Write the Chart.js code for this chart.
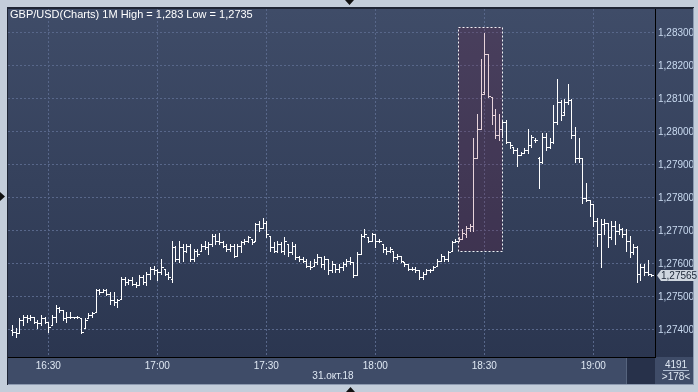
<!DOCTYPE html>
<html lang="ru">
<head>
<meta charset="UTF-8">
<title>GBP/USD 1M</title>
<style>
  html, body { margin: 0; padding: 0; background: #c3cdda; overflow: hidden; }
  canvas { display: block; }
</style>
</head>
<body>
<canvas id="ohlcChart" width="698" height="392"></canvas>
<script src="https://cdn.jsdelivr.net/npm/chart.js@4"></script>
<script>
// one bar per minute, minute 0 = 16:30
const firstBarMinute = -10;

const highs = [
  1.27415, 1.27405, 1.27435, 1.27445, 1.27445, 1.27445, 1.27440, 1.27430, 1.27445, 1.27440,
  1.27425, 1.27445, 1.27475, 1.27470, 1.27460, 1.27455, 1.27455, 1.27440, 1.27443, 1.27435,
  1.27435, 1.27450, 1.27455, 1.27525, 1.27525, 1.27525, 1.27525, 1.27515, 1.27515, 1.27495,
  1.27560, 1.27560, 1.27555, 1.27560, 1.27545, 1.27565, 1.27565, 1.27575, 1.27590, 1.27595,
  1.27585, 1.27615, 1.27585, 1.27575, 1.27670, 1.27655, 1.27670, 1.27660, 1.27660, 1.27660,
  1.27645, 1.27645, 1.27660, 1.27670, 1.27665, 1.27690, 1.27690, 1.27695, 1.27670, 1.27660,
  1.27660, 1.27660, 1.27660, 1.27670, 1.27675, 1.27685, 1.27675, 1.27725, 1.27730, 1.27740,
  1.27730, 1.27685, 1.27665, 1.27670, 1.27665, 1.27680, 1.27660, 1.27665, 1.27660, 1.27625,
  1.27620, 1.27615, 1.27610, 1.27615, 1.27630, 1.27620, 1.27625, 1.27615, 1.27610, 1.27600,
  1.27600, 1.27605, 1.27615, 1.27620, 1.27605, 1.27635, 1.27690, 1.27705, 1.27680, 1.27695,
  1.27690, 1.27675, 1.27660, 1.27650, 1.27650, 1.27640, 1.27630, 1.27625, 1.27605, 1.27600,
  1.27590, 1.27590, 1.27580, 1.27575, 1.27585, 1.27585, 1.27595, 1.27615, 1.27630, 1.27625,
  1.27640, 1.27670, 1.27675, 1.27680, 1.27705, 1.27715, 1.27720, 1.27980, 1.28055, 1.28220,
  1.28300, 1.28235, 1.28105, 1.28070, 1.28055, 1.28035, 1.28035, 1.27970, 1.27955, 1.27950,
  1.27940, 1.27950, 1.28010, 1.27990, 1.27980, 1.27925, 1.27995, 1.27995, 1.27980, 1.28080,
  1.28160, 1.28095, 1.28100, 1.28145, 1.28100, 1.28015, 1.27980, 1.27920, 1.27845, 1.27795,
  1.27780, 1.27740, 1.27735, 1.27735, 1.27725, 1.27730, 1.27730, 1.27720, 1.27710, 1.27705,
  1.27685, 1.27660, 1.27655, 1.27600, 1.27600, 1.27612, 1.27570
];

const lows = [
  1.27385, 1.27380, 1.27390, 1.27415, 1.27425, 1.27430, 1.27420, 1.27405, 1.27415, 1.27420,
  1.27395, 1.27415, 1.27425, 1.27455, 1.27430, 1.27425, 1.27435, 1.27435, 1.27435, 1.27390,
  1.27405, 1.27435, 1.27440, 1.27455, 1.27510, 1.27515, 1.27505, 1.27480, 1.27475, 1.27470,
  1.27495, 1.27535, 1.27540, 1.27535, 1.27530, 1.27535, 1.27540, 1.27535, 1.27555, 1.27570,
  1.27550, 1.27570, 1.27565, 1.27555, 1.27545, 1.27610, 1.27605, 1.27610, 1.27635, 1.27610,
  1.27610, 1.27625, 1.27640, 1.27645, 1.27630, 1.27655, 1.27660, 1.27660, 1.27650, 1.27640,
  1.27640, 1.27620, 1.27625, 1.27635, 1.27660, 1.27665, 1.27660, 1.27670, 1.27700, 1.27710,
  1.27680, 1.27640, 1.27635, 1.27635, 1.27635, 1.27630, 1.27625, 1.27630, 1.27615, 1.27610,
  1.27605, 1.27590, 1.27585, 1.27595, 1.27600, 1.27590, 1.27585, 1.27570, 1.27575, 1.27575,
  1.27575, 1.27580, 1.27595, 1.27600, 1.27560, 1.27565, 1.27630, 1.27680, 1.27665, 1.27670,
  1.27650, 1.27665, 1.27635, 1.27630, 1.27635, 1.27610, 1.27615, 1.27605, 1.27595, 1.27580,
  1.27580, 1.27575, 1.27555, 1.27555, 1.27570, 1.27575, 1.27580, 1.27595, 1.27610, 1.27610,
  1.27610, 1.27640, 1.27665, 1.27670, 1.27675, 1.27680, 1.27700, 1.27700, 1.27920, 1.28010,
  1.28115, 1.28105, 1.28025, 1.27980, 1.27975, 1.27985, 1.27965, 1.27950, 1.27935, 1.27895,
  1.27930, 1.27935, 1.27935, 1.27955, 1.27970, 1.27830, 1.27905, 1.27945, 1.27950, 1.27965,
  1.28025, 1.28035, 1.28050, 1.28085, 1.27980, 1.27910, 1.27910, 1.27785, 1.27790, 1.27745,
  1.27715, 1.27655, 1.27590, 1.27690, 1.27650, 1.27675, 1.27660, 1.27690, 1.27680, 1.27640,
  1.27620, 1.27630, 1.27545, 1.27550, 1.27565, 1.27566, 1.27562
];

const opens = [
  1.27400, 1.27395, 1.27392, 1.27430, 1.27440, 1.27435, 1.27440, 1.27425, 1.27420, 1.27435,
  1.27425, 1.27415, 1.27440, 1.27465, 1.27460, 1.27435, 1.27440, 1.27440, 1.27438, 1.27435,
  1.27405, 1.27435, 1.27445, 1.27455, 1.27520, 1.27515, 1.27520, 1.27510, 1.27490, 1.27485,
  1.27495, 1.27555, 1.27545, 1.27550, 1.27540, 1.27535, 1.27560, 1.27545, 1.27570, 1.27585,
  1.27580, 1.27575, 1.27585, 1.27570, 1.27555, 1.27650, 1.27615, 1.27650, 1.27640, 1.27655,
  1.27615, 1.27640, 1.27640, 1.27655, 1.27650, 1.27660, 1.27685, 1.27670, 1.27665, 1.27655,
  1.27645, 1.27655, 1.27625, 1.27655, 1.27665, 1.27670, 1.27675, 1.27670, 1.27720, 1.27710,
  1.27725, 1.27685, 1.27650, 1.27640, 1.27660, 1.27640, 1.27660, 1.27635, 1.27655, 1.27620,
  1.27615, 1.27610, 1.27595, 1.27595, 1.27605, 1.27620, 1.27600, 1.27615, 1.27580, 1.27600,
  1.27585, 1.27590, 1.27600, 1.27610, 1.27605, 1.27565, 1.27630, 1.27685, 1.27680, 1.27670,
  1.27690, 1.27670, 1.27660, 1.27645, 1.27640, 1.27640, 1.27620, 1.27625, 1.27605, 1.27600,
  1.27585, 1.27585, 1.27580, 1.27560, 1.27570, 1.27580, 1.27580, 1.27595, 1.27610, 1.27625,
  1.27615, 1.27640, 1.27665, 1.27670, 1.27675, 1.27690, 1.27710, 1.27715, 1.27920, 1.28010,
  1.28120, 1.28235, 1.28105, 1.28050, 1.27990, 1.28010, 1.28030, 1.27970, 1.27955, 1.27945,
  1.27930, 1.27935, 1.27945, 1.27960, 1.27975, 1.27920, 1.27910, 1.27985, 1.27955, 1.27970,
  1.28030, 1.28090, 1.28060, 1.28090, 1.28095, 1.27990, 1.27920, 1.27920, 1.27800, 1.27795,
  1.27780, 1.27730, 1.27690, 1.27720, 1.27725, 1.27680, 1.27715, 1.27700, 1.27705, 1.27690,
  1.27670, 1.27635, 1.27650, 1.27570, 1.27590, 1.27575, 1.27570
];

const closes = [
  1.27395, 1.27390, 1.27430, 1.27440, 1.27435, 1.27440, 1.27425, 1.27420, 1.27435, 1.27425,
  1.27410, 1.27440, 1.27465, 1.27460, 1.27435, 1.27440, 1.27440, 1.27438, 1.27440, 1.27395,
  1.27430, 1.27445, 1.27450, 1.27520, 1.27515, 1.27520, 1.27510, 1.27490, 1.27485, 1.27490,
  1.27555, 1.27545, 1.27550, 1.27540, 1.27535, 1.27560, 1.27545, 1.27570, 1.27585, 1.27580,
  1.27575, 1.27590, 1.27570, 1.27560, 1.27650, 1.27615, 1.27650, 1.27640, 1.27655, 1.27615,
  1.27640, 1.27630, 1.27655, 1.27650, 1.27660, 1.27685, 1.27670, 1.27665, 1.27655, 1.27645,
  1.27655, 1.27625, 1.27655, 1.27665, 1.27670, 1.27680, 1.27665, 1.27720, 1.27710, 1.27725,
  1.27690, 1.27650, 1.27640, 1.27660, 1.27640, 1.27670, 1.27635, 1.27655, 1.27620, 1.27615,
  1.27610, 1.27595, 1.27590, 1.27605, 1.27620, 1.27600, 1.27615, 1.27580, 1.27600, 1.27585,
  1.27590, 1.27600, 1.27610, 1.27605, 1.27565, 1.27630, 1.27685, 1.27690, 1.27670, 1.27690,
  1.27670, 1.27670, 1.27645, 1.27640, 1.27645, 1.27620, 1.27625, 1.27610, 1.27600, 1.27585,
  1.27585, 1.27580, 1.27560, 1.27570, 1.27580, 1.27580, 1.27590, 1.27610, 1.27625, 1.27615,
  1.27635, 1.27665, 1.27670, 1.27675, 1.27695, 1.27710, 1.27715, 1.27920, 1.28010, 1.28115,
  1.28235, 1.28110, 1.28050, 1.27990, 1.28010, 1.28030, 1.27970, 1.27960, 1.27945, 1.27930,
  1.27935, 1.27945, 1.27960, 1.27985, 1.27975, 1.27910, 1.27985, 1.27955, 1.27970, 1.28030,
  1.28090, 1.28050, 1.28090, 1.28095, 1.27990, 1.27920, 1.27920, 1.27800, 1.27795, 1.27780,
  1.27730, 1.27690, 1.27720, 1.27725, 1.27680, 1.27715, 1.27700, 1.27705, 1.27690, 1.27670,
  1.27635, 1.27650, 1.27570, 1.27590, 1.27575, 1.27570, 1.27565
];

// axis ticks
const xTickMinutes = [0, 30, 60, 90, 120, 150];
const xTickLabels = ['16:30', '17:00', '17:30', '18:00', '18:30', '19:00'];
const yTickValues = [1.274, 1.275, 1.276, 1.277, 1.278, 1.279, 1.280, 1.281, 1.282, 1.283];

// highlighted zone (minutes / price)
const selection = { from: 112.9, to: 125, top: 1.28318, bottom: 1.27638 };

const titleText = 'GBP/USD(Charts) 1M High = 1,283 Low = 1,2735';
const dateText = '31.окт.18';
const barCountText = '4191';
const visibleText = '>178<';

const FONT = '"Liberation Sans", Arial, sans-serif';
const fmtPrice = v => v.toFixed(5).replace('.', ',');

const panels = {
  id: 'panels',
  beforeDraw(chart) {
    const { ctx, chartArea: a } = chart;
    ctx.save();
    ctx.fillStyle = '#c3cdda';
    ctx.fillRect(0, 0, chart.width, chart.height);
    // frame
    ctx.fillStyle = '#1e2535';
    ctx.fillRect(7, 7, 687, 378);
    ctx.fillStyle = '#8d9ab0';
    ctx.fillRect(8, 384, 686, 1);
    ctx.fillRect(693, 8, 1, 377);
    // plot + price axis gradient
    const g = ctx.createLinearGradient(0, a.top, 0, a.bottom);
    g.addColorStop(0, '#3f4c68');
    g.addColorStop(1, '#2b3650');
    ctx.fillStyle = g;
    ctx.fillRect(a.left, a.top, 693 - a.left, a.bottom - a.top);
    // time axis strip
    ctx.fillStyle = '#3f4c68';
    ctx.fillRect(a.left, a.bottom, 693 - a.left, 384 - a.bottom);
    ctx.fillStyle = '#56647e';
    ctx.fillRect(626, a.bottom + 1, 1, 384 - a.bottom - 1);
    ctx.fillStyle = '#27314a';
    ctx.fillRect(627, a.bottom + 1, a.right - 627, 384 - a.bottom - 1);
    ctx.restore();
  }
};

const ohlc = {
  id: 'ohlc',
  afterDatasetsDraw(chart) {
    const { ctx, chartArea: a, scales: { x, y } } = chart;
    ctx.save();
    ctx.beginPath();
    ctx.rect(a.left, a.top, a.right - a.left, a.bottom - a.top);
    ctx.clip();
    ctx.fillStyle = '#ffffff';
    highs.forEach((h, i) => {
      const px = Math.round(x.getPixelForValue(firstBarMinute + i));
      const yh = Math.round(y.getPixelForValue(h));
      const yl = Math.round(y.getPixelForValue(lows[i]));
      const yo = Math.round(y.getPixelForValue(opens[i]));
      const yc = Math.round(y.getPixelForValue(closes[i]));
      ctx.fillRect(px, yh, 1, yl - yh + 1);
      ctx.fillRect(px - 1, yo, 1, 1);
      ctx.fillRect(px + 1, yc, 2, 1);
    });
    // selection zone
    const sx1 = Math.round(x.getPixelForValue(selection.from));
    const sx2 = Math.round(x.getPixelForValue(selection.to));
    const sy1 = Math.round(y.getPixelForValue(selection.top));
    const sy2 = Math.round(y.getPixelForValue(selection.bottom));
    ctx.fillStyle = 'rgba(120,10,50,0.18)';
    ctx.fillRect(sx1, sy1, sx2 - sx1, sy2 - sy1);
    ctx.strokeStyle = '#f2f2f6';
    ctx.lineWidth = 1;
    ctx.setLineDash([2, 2]);
    ctx.strokeRect(sx1 + 0.5, sy1 + 0.5, sx2 - sx1, sy2 - sy1);
    ctx.restore();

    // last price tag
    const last = closes[closes.length - 1];
    const ty = Math.round(y.getPixelForValue(last));
    ctx.save();
    ctx.fillStyle = '#cfd6df';
    ctx.beginPath();
    ctx.moveTo(a.right + 2, ty + 0.5);
    ctx.lineTo(a.right + 6, ty - 5);
    ctx.lineTo(694, ty - 5);
    ctx.lineTo(694, ty + 6);
    ctx.lineTo(a.right + 6, ty + 6);
    ctx.closePath();
    ctx.fill();
    ctx.fillStyle = '#1c2636';
    ctx.font = '10px ' + FONT;
    ctx.textBaseline = 'middle';
    ctx.fillText(fmtPrice(last), a.right + 6, ty + 1);
    ctx.restore();
  }
};

const decorations = {
  id: 'decorations',
  afterDraw(chart) {
    const { ctx } = chart;
    ctx.save();
    ctx.textBaseline = 'middle';
    ctx.fillStyle = '#ffffff';
    ctx.font = '11px ' + FONT;
    ctx.fillText(titleText, 10, 15);

    ctx.fillStyle = '#dfe8f3';
    ctx.font = '10px ' + FONT;
    ctx.textAlign = 'center';
    ctx.fillText(dateText, 333, 376);
    ctx.fillText(barCountText, 676, 365);
    ctx.fillText(visibleText, 676, 377);
    ctx.fillStyle = '#aebcd0';
    ctx.fillRect(663, 370, 26, 1);

    // scroll markers
    ctx.fillStyle = '#111111';
    ctx.beginPath();
    ctx.moveTo(345, 0); ctx.lineTo(354, 0); ctx.lineTo(349.5, 5); ctx.closePath();
    ctx.moveTo(346, 392); ctx.lineTo(355, 392); ctx.lineTo(350.5, 387); ctx.closePath();
    ctx.moveTo(0, 192); ctx.lineTo(0, 201); ctx.lineTo(5, 196.5); ctx.closePath();
    ctx.fill();
    ctx.restore();
  }
};

new Chart(document.getElementById('ohlcChart'), {
  type: 'line',
  data: {
    datasets: [{
      data: closes.map((c, i) => ({ x: firstBarMinute + i, y: c })),
      showLine: false,
      pointRadius: 0,
      borderColor: 'rgba(0,0,0,0)'
    }]
  },
  options: {
    responsive: false,
    animation: false,
    devicePixelRatio: 1,
    layout: { padding: { left: 8, top: 8, right: 5, bottom: 8 } },
    plugins: { legend: { display: false }, tooltip: { enabled: false } },
    scales: {
      x: {
        type: 'linear',
        position: 'bottom',
        min: -11.1,
        max: 167,
        afterBuildTicks: s => { s.ticks = xTickMinutes.map(v => ({ value: v })); },
        afterFit: s => { s.height = 27; },
        ticks: {
          callback: v => xTickLabels[xTickMinutes.indexOf(v)],
          color: '#dfe8f3',
          font: { family: FONT, size: 10 },
          padding: 3,
          maxRotation: 0,
          autoSkip: false
        },
        grid: { color: '#58678a', drawTicks: false },
        border: { display: true, color: '#000000', width: 1, dash: [2, 2] }
      },
      y: {
        type: 'linear',
        position: 'right',
        min: 1.27318,
        max: 1.28372,
        afterBuildTicks: s => { s.ticks = yTickValues.map(v => ({ value: v })); },
        afterFit: s => { s.width = 38; },
        ticks: {
          callback: v => fmtPrice(v),
          color: '#c9daf0',
          font: { family: FONT, size: 10 },
          padding: 3
        },
        grid: { color: '#58678a', drawTicks: false },
        border: { display: true, color: '#000000', width: 1, dash: [2, 2] }
      }
    }
  },
  plugins: [panels, ohlc, decorations]
});
</script>
</body>
</html>
